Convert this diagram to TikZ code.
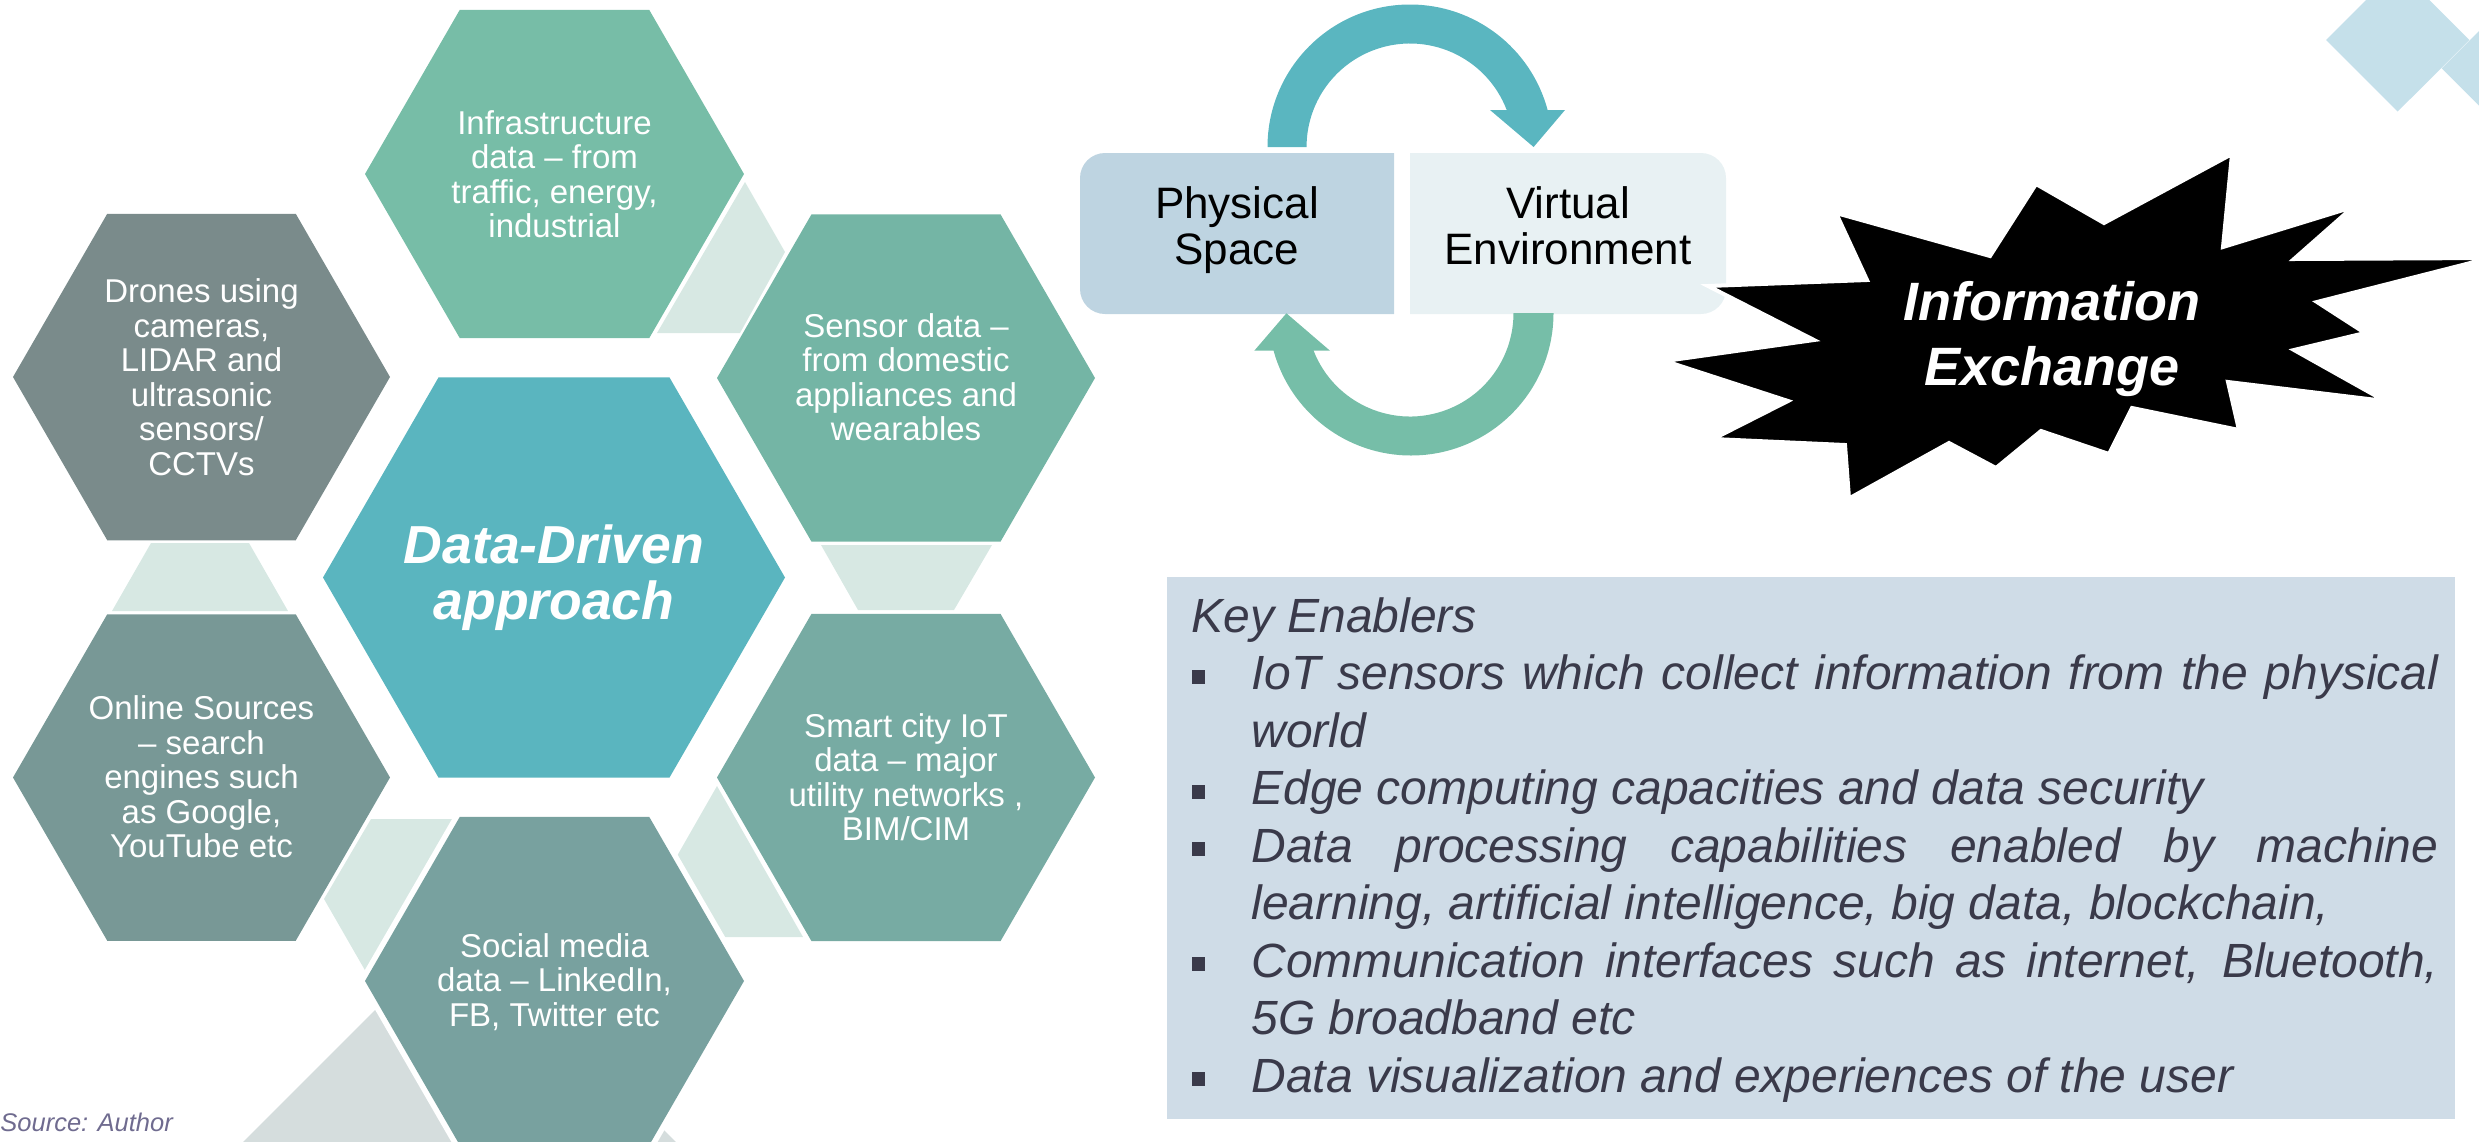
\documentclass[tikz,border=0pt]{standalone}
\usepackage{fontspec}
\setmainfont{Liberation Sans}
\definecolor{hexTop}{HTML}{77BDA7}
\definecolor{hexSensor}{HTML}{74B5A5}
\definecolor{hexDrone}{HTML}{7A8B8B}
\definecolor{hexOnline}{HTML}{789896}
\definecolor{hexSmart}{HTML}{77ABA3}
\definecolor{hexSocial}{HTML}{78A19F}
\definecolor{hexCenter}{HTML}{5AB5BF}
\definecolor{paleC}{HTML}{D7E8E3}
\definecolor{greyD}{HTML}{D5DDDD}
\definecolor{arrTop}{HTML}{5AB6C0}
\definecolor{arrBot}{HTML}{76BEA8}
\definecolor{physC}{HTML}{BED4E1}
\definecolor{virtC}{HTML}{E8F1F3}
\definecolor{keyC}{HTML}{CFDCE7}
\definecolor{keyText}{HTML}{3A3A4A}
\definecolor{srcC}{HTML}{6F6B8F}
\definecolor{diaC}{HTML}{3794B7}
\newcommand\hexfill[4]{\fill[#4] ([shift={(#1,#2)}]0:#3) -- ([shift={(#1,#2)}]60:#3) -- ([shift={(#1,#2)}]120:#3) -- ([shift={(#1,#2)}]180:#3) -- ([shift={(#1,#2)}]240:#3) -- ([shift={(#1,#2)}]300:#3) -- cycle;}
\newcommand\bitem{\par\hangindent=30pt\hangafter=1\noindent\makebox[30pt][l]{\hspace{0.5pt}\rule[3pt]{6.5pt}{7pt}}\ignorespaces}
\begin{document}
\begin{tikzpicture}[x=0.5pt, y=0.5pt, yscale=-1,
  hextext/.style={text=white, align=center, inner sep=0pt, font=\fontsize{16.5}{17.25}\selectfont},
  bigtext/.style={text=white, align=center, inner sep=0pt, font=\fontsize{26.75}{28}\selectfont\bfseries\itshape},
  boxtext/.style={text=black, align=center, inner sep=0pt, font=\fontsize{22}{23.2}\selectfont},
  pale/.style={fill=paleC},
  dia/.style={fill=diaC, fill opacity=0.29}]
\useasboundingbox (0,0) rectangle (2479,1141);
% decorative diamonds
\fill[dia] (2326,40) -- (2397.7,111.5) -- (2469.3,40) -- (2397.7,-31.5) -- cycle;
\fill[dia] (2441.7,68.3) -- (2513,-3) -- (2584.3,68.3) -- (2513,139.6) -- cycle;
% pale connectors
\fill[pale] (745,182) -- (785,252) -- (740,333) -- (657,333) -- cycle;
\fill[pale] (151,543) -- (249,543) -- (288,611) -- (112,611) -- cycle;
\fill[pale] (821,545) -- (992,545) -- (954,610) -- (858,610) -- cycle;
\fill[pale] (371,819) -- (453,819) -- (366,972) -- (324,899) -- cycle;
\fill[pale] (717,786) -- (677,856) -- (723,937) -- (803,937) -- cycle;
% grey diamond at bottom
\fill[greyD] (459.5,925.5) -- (200,1185) -- (719,1185) -- cycle;
% hexagons
\hexfill{554.5}{174}{189.5}{hexTop}
\hexfill{201.5}{377}{188.5}{hexDrone}
\hexfill{906}{378}{189}{hexSensor}
\hexfill{554}{577.5}{231}{hexCenter}
\hexfill{201.5}{777.5}{188.5}{hexOnline}
\hexfill{906}{777.5}{189}{hexSmart}
\hexfill{554.5}{981}{196}{white}
\hexfill{554.5}{981}{189.5}{hexSocial}
\node[hextext] (infra) at (554.5,174) {Infrastructure\\data – from\\traffic, energy,\\industrial};
\node[hextext] (drones) at (201.5,377) {Drones using\\cameras,\\LIDAR and\\ultrasonic\\sensors/\\CCTVs};
\node[hextext] (sensor) at (906,377) {Sensor data –\\from domestic\\appliances and\\wearables};
\node[bigtext] (center) at (554,577.5) {Data-Driven\\approach};
\node[hextext] (online) at (201.5,777) {Online Sources\\– search\\engines such\\as Google,\\YouTube etc};
\node[hextext] (smart) at (906,777) {Smart city IoT\\data – major\\utility networks ,\\BIM/CIM};
\node[hextext] (social) at (554.5,982) {Social media\\data – LinkedIn,\\FB, Twitter etc};
% physical / virtual boxes
\fill[physC] (1394,153) [rounded corners=12.5pt] -- (1080,153) -- (1080,314) [sharp corners] -- (1394,314) -- cycle;
\fill[virtC] (1410,314) [rounded corners=12.5pt] -- (1726,314) -- (1726,153) [sharp corners] -- (1410,153) -- cycle;
\node[boxtext] (phys) at (1237,230) {Physical\\Space};
\node[boxtext] (virt) at (1568,225.5) {Virtual\\Environment};
% circular arrows
\fill[arrTop] (1267.5,147) arc[start angle=180, end angle=344.95, radius=142.5] -- (1565,110) -- (1533.6,147) -- (1490,110) -- (1506.7,110) arc[start angle=339.05, end angle=180, radius=103.5] -- cycle;
\fill[arrBot] (1553.5,313) arc[start angle=0, end angle=164.7, radius=142.5] -- (1254.3,350.7) -- (1286.4,313.3) -- (1330,350.7) -- (1313.6,350.7) arc[start angle=158.64, end angle=0, radius=103.5] -- cycle;
% star
\filldraw[fill=black, draw=white, line width=2pt, line join=miter] (2232,154) -- (2223,247) -- (2353,207) -- (2294,259) -- (2490,258) -- (2317,302) -- (2365,333) -- (2294,350) -- (2385,401) -- (2228,382) -- (2239,430) -- (2132,408) -- (2109,454) -- (2041,431) -- (1996,468) -- (1949,443) -- (1849,498.5) -- (1845,445) -- (1713,439) -- (1788,401) -- (1665,361) -- (1814,340) -- (1708,286) -- (1867,280) -- (1836,213) -- (1990,256) -- (2036,184) -- (2104,223) -- cycle;
\node[text=white, align=center, inner sep=0pt, font=\fontsize{27}{32.5}\selectfont\bfseries\itshape] (info) at (2052,339) {Information\\Exchange};
% key enablers
\fill[keyC] (1167,577) rectangle (2455,1119);
\node[anchor=base west, inner sep=0pt, text=keyText, font=\fontsize{24}{28.75}\selectfont\itshape] (keytext) at (1191,632) {\parbox[t]{623.5pt}{\hyphenpenalty=10000 \hbadness=10000 \tolerance=10000 Key Enablers\par
\bitem IoT sensors which collect information from the physical\linebreak world
\bitem Edge computing capacities and data security
\bitem Data processing capabilities enabled by machine\linebreak learning, artificial intelligence, big data, blockchain,
\bitem Communication interfaces such as internet, Bluetooth,\linebreak 5G broadband etc
\bitem Data visualization and experiences of the user}};
% source
\node[anchor=base west, inner sep=0pt, text=srcC, font=\fontsize{12.75}{15}\selectfont\itshape] (src) at (0,1131.7) {Source: Author};
\end{tikzpicture}
\end{document}
